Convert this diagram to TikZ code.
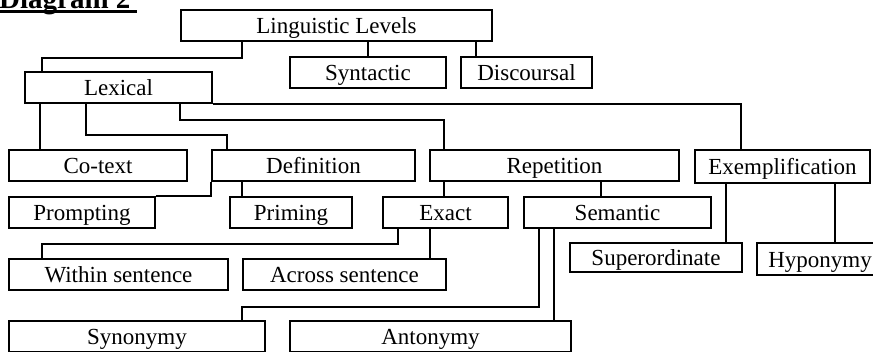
\documentclass[tikz,border=0pt]{standalone}
\usepackage{fontspec}
\setmainfont{Liberation Serif}
\begin{document}
\begin{tikzpicture}[x=1pt,y=-1pt,
  box/.style={draw, line width=1.6pt, inner sep=0pt, minimum height=31pt,
    text height=16pt, text depth=0pt, font=\fontsize{23}{27}\selectfont},
  link/.style={line width=1.6pt}]
\useasboundingbox (0,0) rectangle (873,351);
\clip (0,0) rectangle (873,351);
\fill[white] (0,0) rectangle (873,351);
% title
\node[anchor=base west, inner sep=0pt, font=\fontsize{29}{32}\selectfont\bfseries] (title) at (-1,8) {Diagram 2};
\fill (0,10) rectangle (137,13);
% boxes
\node[box, minimum width=311pt] (LL) at (336.5,25.5) {Linguistic Levels};
\node[box, minimum width=156pt] (Syn) at (368,72.5) {Syntactic};
\node[box, minimum width=131pt] (Dis) at (526.5,72.5) {Discoursal};
\node[box, minimum width=187pt] (Lex) at (118.5,87.5) {Lexical};
\node[box, minimum width=178pt] (Cot) at (98,165.5) {Co-text};
\node[box, minimum width=203pt] (Def) at (313.5,165.5) {Definition};
\node[box, minimum width=249pt] (Rep) at (554.5,165.5) {Repetition};
\node[box, minimum width=175pt, minimum height=33pt] (Exe) at (782.5,166.5) {Exemplification};
\node[box, minimum width=146pt] (Pro) at (82,212.5) {Prompting};
\node[box, minimum width=122pt] (Pri) at (291,212.5) {Priming};
\node[box, minimum width=125pt] (Exa) at (445.5,212.5) {Exact};
\node[box, minimum width=187pt] (Sem) at (617.5,212.5) {Semantic};
\node[box, minimum width=172pt, minimum height=29pt] (Sup) at (656,257.5) {Superordinate};
\node[box, minimum width=126pt, minimum height=32pt] (Hyp) at (820,259) {Hyponymy};
\node[box, minimum width=219pt] (Wit) at (118.5,274.5) {Within sentence};
\node[box, minimum width=203pt] (Acr) at (344.5,274.5) {Across sentence};
\node[box, minimum width=256pt] (Syno) at (137,336.5) {Synonymy};
\node[box, minimum width=281pt] (Ant) at (430.5,336.5) {Antonymy};
% connectors
\draw[link] ([xshift=62pt]LL.south west) -- ++(0,16) -| ([xshift=18pt]Lex.north west);
\draw[link] (Syn.north |- LL.south) -- (Syn.north);
\draw[link] ([xshift=296pt]LL.south west) -- ([xshift=16pt]Dis.north west);
\draw[link] ([xshift=16pt]Lex.south west) -- ([xshift=32pt]Cot.north west);
\draw[link] ([xshift=62pt]Lex.south west) -- ++(0,31) -| ([xshift=16pt]Def.north west);
\draw[link] ([xshift=156pt]Lex.south west) -- ++(0,16) -| ([xshift=15pt]Rep.north west);
\draw[link] (Lex.south east) -| ([xshift=47pt]Exe.north west);
\draw[link] (Def.south west) |- (Pro.north east);
\draw[link] ([xshift=31pt]Def.south west) -- ([xshift=13pt]Pri.north west);
\draw[link] ([xshift=15pt]Rep.south west) -- ([xshift=62pt]Exa.north west);
\draw[link] ([xshift=172pt]Rep.south west) -- ([xshift=78pt]Sem.north west);
\draw[link] ([xshift=32pt]Exe.south west) -- ([xshift=157pt]Sup.north west);
\draw[link] ([xshift=141pt]Exe.south west) -- ([xshift=79pt]Hyp.north west);
\draw[link] ([xshift=16pt]Exa.south west) -- ++(0,15) -| ([xshift=34pt]Wit.north west);
\draw[link] ([xshift=48pt]Exa.south west) -- ([xshift=188pt]Acr.north west);
\draw[link] ([xshift=16pt]Sem.south west) -- ++(0,78) -| ([xshift=234pt]Syno.north west);
\draw[link] ([xshift=31pt]Sem.south west) -- ([xshift=265pt]Ant.north west);
\end{tikzpicture}
\end{document}
